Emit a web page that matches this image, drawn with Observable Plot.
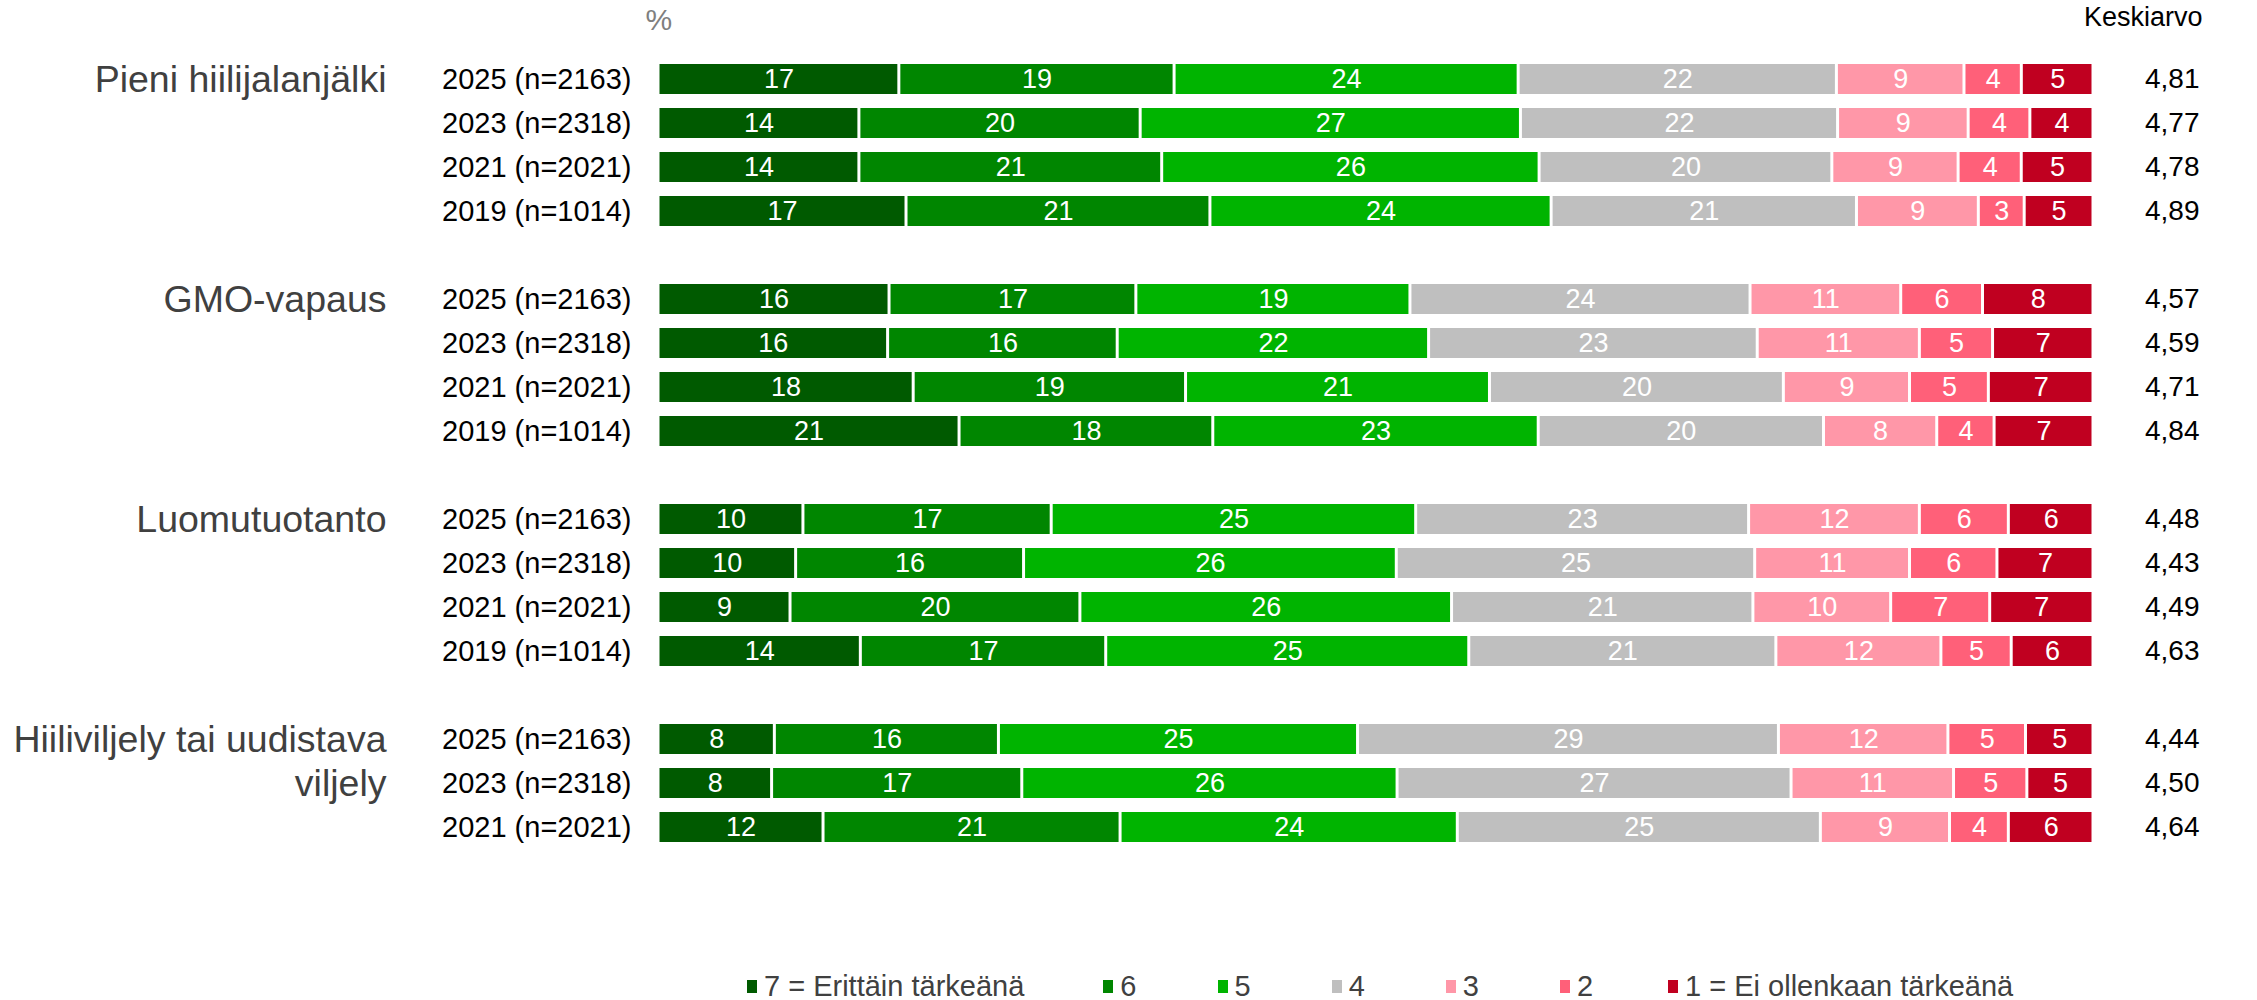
<!DOCTYPE html>
<html>
<head>
<meta charset="utf-8">
<script src="https://cdn.jsdelivr.net/npm/d3@7"></script>
<script src="https://cdn.jsdelivr.net/npm/@observablehq/plot@0.6"></script>
<style>
  body { margin: 0; background: #fff; font-family: "Liberation Sans", Arial, sans-serif; }
  #chart svg { display: block; }
  #legend { display: flex; align-items: center; height: 100px; padding: 72px 0 0 747px; box-sizing: border-box; font-size: 29px; color: #404040; }
  #legend .item { display: flex; align-items: center; margin-right: 81px; }
  #legend .item:first-child { margin-right: 79px; }
  #legend .item:nth-child(6) { margin-right: 75px; }
  #legend .sw { width: 10px; height: 13px; margin-right: 7px; }
</style>
</head>
<body>
<div id="chart"></div>
<div id="legend"></div>
<script>
// ---- data ----
const categories = ["7 = Erittäin tärkeänä", "6", "5", "4", "3", "2", "1 = Ei ollenkaan tärkeänä"];
const colors = ["#005a00", "#008600", "#00b400", "#bfbfbf", "#ff97a8", "#ff6079", "#c00020"];
const groups = ["Pieni hiilijalanjälki", "GMO-vapaus", "Luomutuotanto", "Hiiliviljely tai uudistava viljely"];
const groupLabelLines = [["Pieni hiilijalanjälki"], ["GMO-vapaus"], ["Luomutuotanto"], ["Hiiliviljely tai uudistava", "viljely"]];
const wavesFull = ["2025 (n=2163)", "2023 (n=2318)", "2021 (n=2021)", "2019 (n=1014)"];
const wavesHiili = ["2025 (n=2163)", "2023 (n=2318)", "2021 (n=2021)"];

// shares (%)
const sharesPieni = [[16.8,19.2,24.0,22.2,8.9,4.0,5.0],[14.0,19.6,26.5,22.1,9.1,4.3,4.4],[14.0,21.1,26.3,20.4,8.8,4.4,5.0],[17.3,21.2,23.8,21.3,8.5,3.2,4.8]];
const sharesGmo   = [[16.1,17.2,19.1,23.7,10.5,5.7,7.7],[16.0,16.0,21.7,22.9,11.3,5.1,7.0],[17.8,19.0,21.2,20.5,8.8,5.5,7.3],[21.0,17.7,22.7,19.9,7.9,4.0,6.9]];
const sharesLuomu = [[10.1,17.3,25.4,23.2,11.9,6.2,5.9],[9.6,15.9,26.0,25.0,10.8,6.1,6.7],[9.2,20.2,25.9,21.0,9.6,6.9,7.2],[14.1,17.1,25.3,21.4,11.5,4.9,5.7]];
const sharesHiili = [[8.1,15.6,25.0,29.3,11.8,5.4,4.7],[7.9,17.4,26.1,27.4,11.3,5.1,4.6],[11.5,20.7,23.5,25.3,9.0,4.1,5.9]];

// printed labels (rounded %)
const labelsPieni = [[17,19,24,22,9,4,5],[14,20,27,22,9,4,4],[14,21,26,20,9,4,5],[17,21,24,21,9,3,5]];
const labelsGmo   = [[16,17,19,24,11,6,8],[16,16,22,23,11,5,7],[18,19,21,20,9,5,7],[21,18,23,20,8,4,7]];
const labelsLuomu = [[10,17,25,23,12,6,6],[10,16,26,25,11,6,7],[9,20,26,21,10,7,7],[14,17,25,21,12,5,6]];
const labelsHiili = [[8,16,25,29,12,5,5],[8,17,26,27,11,5,5],[12,21,24,25,9,4,6]];

const meansPieni = ["4,81","4,77","4,78","4,89"];
const meansGmo   = ["4,57","4,59","4,71","4,84"];
const meansLuomu = ["4,48","4,43","4,49","4,63"];
const meansHiili = ["4,44","4,50","4,64"];

// ---- tables ----
const groupData = [
  {waves: wavesFull, shares: sharesPieni, labels: labelsPieni, means: meansPieni},
  {waves: wavesFull, shares: sharesGmo, labels: labelsGmo, means: meansGmo},
  {waves: wavesFull, shares: sharesLuomu, labels: labelsLuomu, means: meansLuomu},
  {waves: wavesHiili, shares: sharesHiili, labels: labelsHiili, means: meansHiili}
];
const domainY = [];
const segs = [];
const meanRows = [];
const groupLabels = [];
groups.forEach((g, gi) => {
  const gd = groupData[gi];
  const keys = gd.waves.map(w => g + "|" + w);
  keys.forEach((k, i) => {
    domainY.push(k);
    gd.shares[i].forEach((v, ci) => segs.push({row: k, cat: categories[ci], value: v, label: gd.labels[i][ci]}));
    meanRows.push({row: k, mean: gd.means[i]});
  });
  groupLabelLines[gi].forEach((line, li) => groupLabels.push({row: keys[li], text: line}));
  if (gi < groups.length - 1) domainY.push("gap" + gi);
});

const W = 2257, H = 900;
const MT = 50;
const chart = Plot.plot({
  width: W,
  height: H,
  marginLeft: 658,
  marginRight: 164,
  marginTop: MT,
  marginBottom: 43.5,
  style: {fontFamily: "'Liberation Sans', Arial, sans-serif", color: "#000", background: "#fff"},
  x: {domain: [0, 1], axis: null},
  y: {domain: domainY, padding: 0.31, axis: null},
  color: {domain: categories, range: colors},
  marks: [
    Plot.barX(segs, Plot.stackX({x: "value", y: "row", z: "cat", fill: "cat", offset: "normalize", insetLeft: 1.5, insetRight: 1.5})),
    Plot.text(segs, Plot.stackX({x: "value", y: "row", z: "cat", offset: "normalize", text: d => String(d.label), fill: "white", fontSize: 27})),
    Plot.axisY({tickSize: 0, tickPadding: 27, fontSize: 29, fill: "#000", label: null,
      tickFormat: d => d.startsWith("gap") ? "" : d.split("|")[1]}),
    Plot.text(groupLabels, {y: "row", text: "text", frameAnchor: "left", dx: -272, textAnchor: "end", fontSize: 37.5, fill: "#404040"}),
    Plot.text(meanRows, {y: "row", text: "mean", frameAnchor: "right", dx: 106, textAnchor: "end", fontSize: 28, fill: "#000"}),
    Plot.text(["%"], {frameAnchor: "top-left", lineAnchor: "middle", dx: -13, dy: 20 - MT, textAnchor: "start", fontSize: 30, fill: "#7f7f7f"}),
    Plot.text(["Keskiarvo"], {frameAnchor: "top-right", lineAnchor: "middle", dx: 109, dy: 17 - MT, textAnchor: "end", fontSize: 27, fill: "#000"})
  ]
});
document.getElementById("chart").appendChild(chart);

const legend = document.getElementById("legend");
categories.forEach((c, i) => {
  const item = document.createElement("div");
  item.className = "item";
  const sw = document.createElement("span");
  sw.className = "sw";
  sw.style.background = colors[i];
  const t = document.createElement("span");
  t.textContent = c;
  item.appendChild(sw);
  item.appendChild(t);
  legend.appendChild(item);
});
</script>
</body>
</html>
